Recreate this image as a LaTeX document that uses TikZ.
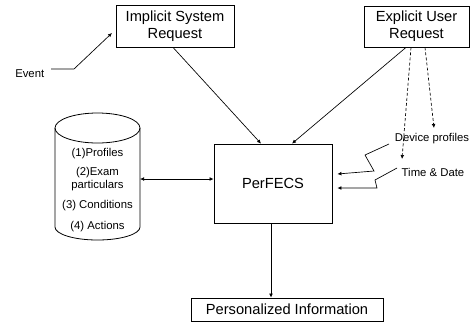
\documentclass[tikz,border=0pt]{standalone}
\usepackage{fontspec}
\setmainfont{Liberation Sans}
\usetikzlibrary{arrows.meta,calc}
\newcommand\pxu{*0.75pt}
\tikzset{
  x=0.75pt, y=-0.75pt,
  boxnode/.style={draw, line width=0.6pt, align=center, inner sep=0pt,
    font=\fontsize{11pt}{12.75pt}\selectfont},
  smalltext/.style={inner sep=0pt, align=center, font=\fontsize{8.5pt}{9.75pt}\selectfont},
  conn/.style={line width=0.5pt, -{Latex[length=3pt,width=2.8pt]}},
  dconn/.style={conn, dash pattern=on 2.2pt off 1.6pt},
  biconn/.style={line width=0.5pt, {Latex[length=3pt,width=2.8pt]}-{Latex[length=3pt,width=2.8pt]}},
}
\begin{document}
\begin{tikzpicture}
\useasboundingbox (0,0) rectangle (473,322);
% boxes
\node[boxnode, minimum width={118\pxu}, minimum height={42\pxu}] (isr) at (175,26) {Implicit System\\Request};
\node[boxnode, minimum width={105\pxu}, minimum height={41\pxu}] (eur) at (416.5,26.5) {Explicit User\\Request};
\node[boxnode, minimum width={118\pxu}, minimum height={79\pxu}] (per) at (273,183.5) {PerFECS};
\node[boxnode, minimum width={192\pxu}, minimum height={23\pxu}] (pinfo) at (287,309.5) {Personalized Information};
% cylinder
\draw[line width=0.6pt] (55,128) -- (55,227) arc[start angle=180, end angle=360, x radius=42.5, y radius=-13] -- (140,128);
\draw[line width=0.6pt] (97.5,128) ellipse[x radius=42.5, y radius=15];
\node[smalltext] (c1) at (97.5,154) {(1)Profiles};
\node[smalltext] (c2) at (97.5,179.5) {(2)Exam\\particulars};
\node[smalltext] (c3) at (97.5,206) {(3) Conditions};
\node[smalltext] (c4) at (97.5,226.5) {(4) Actions};
\coordinate (cylE) at (140,179);
% labels
\node[smalltext, anchor=west] (event) at (15,74) {Event};
\node[smalltext] (dev) at (432,139) {Device profiles};
\node[smalltext] (td) at (433,172) {Time \& Date};
% connectors
\coordinate (evA) at (51,69);
\coordinate (evB) at (74,69);
\coordinate (evT) at (112,33);
\draw[conn] (evA) -- (evB) -- (evT);
\draw[conn] ([xshift={-2\pxu}]isr.south) -- ([xshift={-12\pxu}]per.north);
\draw[conn] ([xshift={-10.5\pxu}]eur.south) -- ([xshift={19\pxu}]per.north);
\coordinate (d1end) at (402,159);
\coordinate (d2end) at (434,128);
\draw[dconn] ([xshift={-5.5\pxu}]eur.south) -- (d1end);
\draw[dconn] ([xshift={8.5\pxu}]eur.south) -- (d2end);
\coordinate (l1a) at (389,144);
\coordinate (l1b) at (365,155);
\coordinate (l1c) at (374,171);
\coordinate (l2a) at (397,168);
\coordinate (l2b) at (375,180);
\coordinate (l2c) at (377,188);
\draw[conn] (l1a) -- (l1b) -- (l1c) -- ([xshift={5\pxu}]per.east |- 0,174);
\draw[conn] (l2a) -- (l2b) -- (l2c) -- ([xshift={5\pxu}]per.east |- 0,188);
\draw[biconn] (cylE) -- (cylE -| per.west);
\draw[conn] ([xshift={-2\pxu}]per.south) -- ([xshift={-2\pxu}]per.south |- pinfo.north);
\end{tikzpicture}
\end{document}
